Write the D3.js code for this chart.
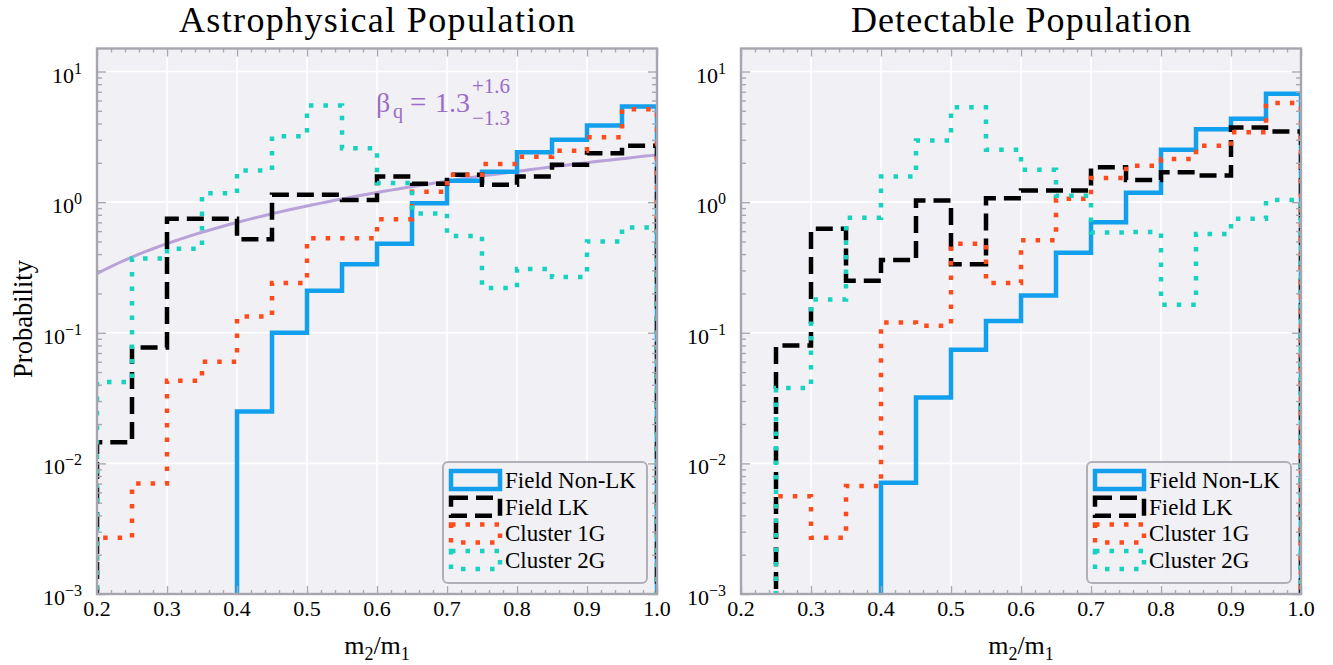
<!DOCTYPE html>
<meta charset="utf-8">
<script src="https://d3js.org/d3.v7.min.js"></script>
<style>
  body { margin: 0; background: #fff; }
  svg text { font-family: "Liberation Serif", "Times New Roman", serif; fill: #000; }
</style>
<body>
<script>

// bin edges of m2/m1 and the histogram heights
var binEdges = [0.20, 0.25, 0.30, 0.35, 0.40, 0.45, 0.50, 0.55, 0.60, 0.65, 0.70, 0.75, 0.80, 0.85, 0.90, 0.95, 1.00];

var astroNonLK = [0, 0, 0, 0, 0.025, 0.10, 0.21, 0.335, 0.48, 0.98, 1.46, 1.71, 2.41, 3.0, 3.86, 5.4];
var astroLK    = [0.0145, 0.077, 0.745, 0.745, 0.52, 1.14, 1.14, 1.04, 1.57, 1.38, 1.62, 1.36, 1.57, 1.93, 2.37, 2.7];
var astro1G    = [0.0027, 0.007, 0.043, 0.06, 0.133, 0.24, 0.53, 0.53, 0.74, 1.2, 1.62, 1.96, 2.23, 2.47, 3.14, 5.15];
var astro2G    = [0.042, 0.37, 0.44, 1.17, 1.75, 3.2, 5.5, 2.59, 1.4, 0.82, 0.55, 0.22, 0.307, 0.267, 0.50, 0.64];

var detNonLK = [0, 0, 0, 0, 0.0071, 0.032, 0.074, 0.123, 0.193, 0.41, 0.70, 1.18, 2.52, 3.62, 4.34, 6.75];
var detLK    = [0, 0.08, 0.625, 0.25, 0.36, 1.03, 0.335, 1.07, 1.23, 1.23, 1.85, 1.48, 1.69, 1.6, 3.73, 3.47];
var det1G    = [0, 0.0056, 0.0027, 0.0067, 0.12, 0.113, 0.48, 0.24, 0.51, 1.06, 1.53, 1.9, 2.14, 2.7, 3.43, 5.73];
var det2G    = [0, 0.0377, 0.18, 0.76, 1.57, 2.96, 5.33, 2.52, 1.77, 1.12, 0.585, 0.59, 0.164, 0.57, 0.745, 1.04];

var seriesNames = ["Field Non-LK", "Field LK", "Cluster 1G", "Cluster 2G"];

// power-law fit p(q) = (beta+1) q^beta shown in the left panel
var betaQ = 1.3, betaUp = 1.6, betaLo = 1.3;

var xTicks = [0.2, 0.3, 0.4, 0.5, 0.6, 0.7, 0.8, 0.9, 1.0];
var yTickExps = [-3, -2, -1, 0, 1];
var titles = ["Astrophysical Population", "Detectable Population"];

// ---------------------------------------------------------------
var serif = "'Liberation Serif', 'Times New Roman', serif";
var styles = [
  {color: "#12a0ee", dash: null},
  {color: "#000000", dash: "17,8"},
  {color: "#ff4b1c", dash: "4.5,10"},
  {color: "#16d2be", dash: "4.5,10"}
];
var axisGrey = "#a8a8b0";

var W = 560, H = 545.5, top0 = 48.5;
var panels = [
  {x0: 97,  title: titles[0], titleLen: 396, data: [astroNonLK, astroLK, astro1G, astro2G], fit: true},
  {x0: 741, title: titles[1], titleLen: 340, data: [detNonLK, detLK, det1G, det2G], fit: false}
];

var svg = d3.select("body").append("svg")
    .attr("width", 1333)
    .attr("height", 665)
    .attr("font-family", serif);

var x = d3.scaleLinear().domain([0.2, 1.0]).range([0, W]);
var y = d3.scaleLog().domain([1e-3, 15]).range([H, 0]);

function yv(v) { return v > 0 ? y(v) : H + 10; }

// all text goes through here so the serif face sticks
function txt(sel, size) {
  return sel.append("text")
    .style("font-family", serif)
    .style("font-size", size + "px");
}

var stepLine = d3.line()
    .x(function(d) { return x(d[0]); })
    .y(function(d) { return yv(d[1]); });

function stepPoints(vals) {
  var pts = [[binEdges[0], 0]];
  vals.forEach(function(v, i) {
    pts.push([binEdges[i], v]);
    pts.push([binEdges[i + 1], v]);
  });
  pts.push([binEdges[binEdges.length - 1], 0]);
  return pts;
}

var xMinor = d3.range(0.2, 1.0001, 0.02).filter(function(t) {
  return Math.abs(t * 10 - Math.round(t * 10)) > 0.01;
});
var yMinor = [];
yTickExps.forEach(function(e) {
  for (var m = 2; m <= 9; m++) {
    var v = m * Math.pow(10, e);
    if (v < 15) yMinor.push(v);
  }
});

panels.forEach(function(p, pi) {
  var g = svg.append("g").attr("transform", "translate(" + p.x0 + "," + top0 + ")");

  g.append("rect").attr("width", W).attr("height", H).attr("fill", "#f0f0f5");

  var clipId = "clip" + pi;
  g.append("clipPath").attr("id", clipId)
    .append("rect").attr("width", W).attr("height", H);

  // grid
  g.append("g").selectAll("line")
    .data(xTicks.slice(1, -1)).enter().append("line")
      .attr("x1", function(d) { return x(d); }).attr("x2", function(d) { return x(d); })
      .attr("y1", 0).attr("y2", H)
      .attr("stroke", "#fff").attr("stroke-width", 1.6);
  g.append("g").selectAll("line")
    .data(yTickExps.slice(1)).enter().append("line")
      .attr("y1", function(d) { return y(Math.pow(10, d)); })
      .attr("y2", function(d) { return y(Math.pow(10, d)); })
      .attr("x1", 0).attr("x2", W)
      .attr("stroke", "#fff").attr("stroke-width", 1.6);

  var plot = g.append("g").attr("clip-path", "url(#" + clipId + ")");

  if (p.fit) {
    var qs = d3.range(0.2, 1.0001, 0.01);
    plot.append("path")
      .datum(qs)
      .attr("fill", "none")
      .attr("stroke", "#b9a2da")
      .attr("stroke-width", 3)
      .attr("d", d3.line()
        .x(function(q) { return x(q); })
        .y(function(q) { return y((betaQ + 1) * Math.pow(q, betaQ)); }));
  }

  p.data.forEach(function(vals, si) {
    plot.append("path")
      .datum(stepPoints(vals))
      .attr("fill", "none")
      .attr("stroke", styles[si].color)
      .attr("stroke-width", 4.5)
      .attr("stroke-dasharray", styles[si].dash)
      .attr("d", stepLine);
  });

  // ticks (inside, all four sides)
  function tickStyle(sel) {
    sel.select(".domain").remove();
    sel.selectAll("line").attr("stroke", axisGrey).attr("stroke-width", 1.4);
    sel.selectAll("text").remove();
  }
  g.append("g").attr("transform", "translate(0," + H + ")")
    .call(d3.axisBottom(x).tickValues(xTicks).tickSize(-8)).call(tickStyle);
  g.append("g").attr("transform", "translate(0," + H + ")")
    .call(d3.axisBottom(x).tickValues(xMinor).tickSize(-4)).call(tickStyle);
  g.append("g")
    .call(d3.axisTop(x).tickValues(xTicks).tickSize(-8)).call(tickStyle);
  g.append("g")
    .call(d3.axisTop(x).tickValues(xMinor).tickSize(-4)).call(tickStyle);
  var yMaj = yTickExps.map(function(e) { return Math.pow(10, e); });
  g.append("g").call(d3.axisLeft(y).tickValues(yMaj).tickSize(-9)).call(tickStyle);
  g.append("g").call(d3.axisLeft(y).tickValues(yMinor).tickSize(-5)).call(tickStyle);
  g.append("g").attr("transform", "translate(" + W + ",0)")
    .call(d3.axisRight(y).tickValues(yMaj).tickSize(-9)).call(tickStyle);
  g.append("g").attr("transform", "translate(" + W + ",0)")
    .call(d3.axisRight(y).tickValues(yMinor).tickSize(-5)).call(tickStyle);

  // spines
  g.append("rect").attr("width", W).attr("height", H)
    .attr("fill", "none").attr("stroke", "#a6a6ae").attr("stroke-width", 2.4);

  // tick labels
  xTicks.forEach(function(t) {
    txt(g, 22).attr("x", x(t)).attr("y", H + 22)
      .attr("text-anchor", "middle")
      .text(t.toFixed(1));
  });

  yTickExps.forEach(function(e) {
    var t = txt(g, 22).attr("x", -15)
      .attr("y", y(Math.pow(10, e)) + 11)
      .attr("text-anchor", "end");
    t.append("tspan").text("10");
    t.append("tspan").attr("dy", -9).style("font-size", "16px")
      .text(e < 0 ? "\u2212" + (-e) : String(e));
  });

  // title
  txt(g, 36).attr("x", W / 2).attr("y", 32 - top0)
    .attr("text-anchor", "middle")
    .attr("textLength", p.titleLen)
    .attr("lengthAdjust", "spacing")
    .text(p.title);

  // x label m2/m1
  var xl = txt(g, 26).attr("x", W / 2).attr("y", H + 60)
    .attr("text-anchor", "middle");
  xl.append("tspan").text("m");
  xl.append("tspan").attr("dy", 6).style("font-size", "18px").text("2");
  xl.append("tspan").attr("dy", -6).text("/m");
  xl.append("tspan").attr("dy", 6).style("font-size", "18px").text("1");

  // legend
  var lw = 204, lh = 121;
  var lg = g.append("g").attr("transform", "translate(" + (W - 10 - lw) + "," + (H - 11 - lh) + ")");
  lg.append("rect").attr("width", lw).attr("height", lh).attr("rx", 5)
    .attr("fill", "#f0f0f5").attr("fill-opacity", 0.85)
    .attr("stroke", "#b0b0b8").attr("stroke-width", 2);
  seriesNames.forEach(function(name, si) {
    var cy = 18 + si * 26.7;
    lg.append("rect")
      .attr("x", 8).attr("y", cy - 9).attr("width", 49).attr("height", 18)
      .attr("fill", "none")
      .attr("stroke", styles[si].color).attr("stroke-width", 4.5)
      .attr("stroke-dasharray", styles[si].dash);
    txt(lg, 23).attr("x", 62).attr("y", cy + 8).text(name);
  });

  if (p.fit) {
    var ac = "#9b6dc6";
    var by = 112 - top0;
    txt(g, 28).attr("x", 376 - p.x0).attr("y", by).style("fill", ac).text("\u03b2");
    txt(g, 20).attr("x", 393 - p.x0).attr("y", by + 6).style("fill", ac).text("q");
    txt(g, 29).attr("x", 410 - p.x0).attr("y", by).style("fill", ac).text("=");
    txt(g, 28).attr("x", 435 - p.x0).attr("y", by).style("fill", ac).text(String(betaQ));
    txt(g, 21).attr("x", 472 - p.x0).attr("y", by - 19).style("fill", ac).text("+" + betaUp);
    txt(g, 21).attr("x", 472 - p.x0).attr("y", by + 13).style("fill", ac).text("\u2212" + betaLo);
  }
});

// y label
txt(svg, 26.5)
  .attr("transform", "translate(32,319) rotate(-90)")
  .attr("text-anchor", "middle")
  .text("Probability");

</script>
</body>
